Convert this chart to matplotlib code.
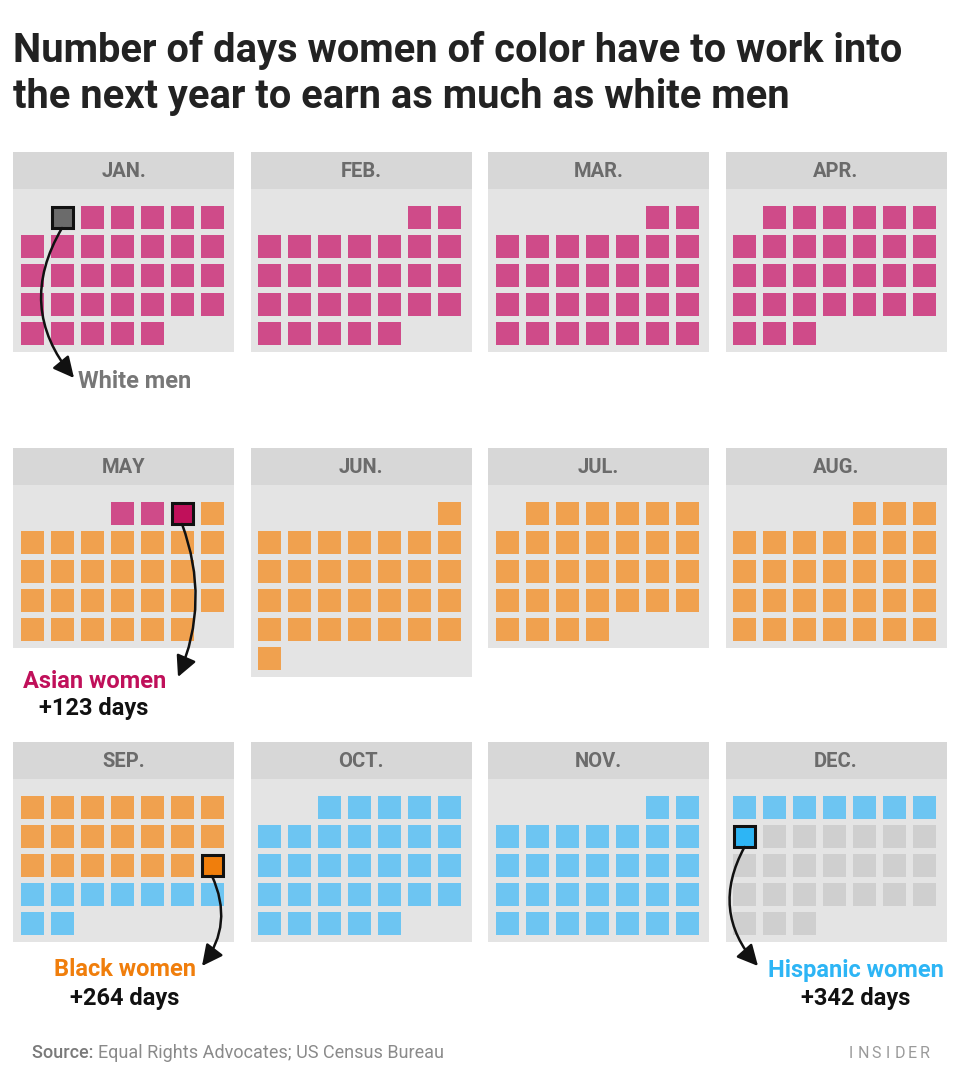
import numpy as np
import matplotlib
matplotlib.use("Agg")
import matplotlib.pyplot as plt
from matplotlib.patches import Rectangle

plt.rcParams['font.family'] = ['Roboto', 'DejaVu Sans']

# calendar data
months = ["JAN.", "FEB.", "MAR.", "APR.", "MAY", "JUN.",
          "JUL.", "AUG.", "SEP.", "OCT.", "NOV.", "DEC."]
start_cols = [1, 5, 5, 1, 3, 6, 1, 4, 0, 2, 5, 0]
day_counts = [32, 28, 30, 30, 31, 30, 31, 31, 30, 31, 30, 31]

# the day each group reaches the white men's pay (month index, day of month)
groups = ["White men", "Asian women", "Black women", "Hispanic women"]
extra_days = [None, "+123 days", "+264 days", "+342 days"]
hl_month = [0, 4, 8, 11]
hl_day = [1, 3, 21, 8]

hl_colors = ["#6b6b6b", "#c0105a", "#f07e0c", "#2db5f5"]
seg_colors = ["#cf4b89", "#f0a14f", "#6dc5f2", "#cfcfcf"]
label_colors = ["#777777", "#c0105a", "#f07e0c", "#2db5f5"]

# layout (pixels)
W, H = 960, 1091
panel_x0, panel_dx, panel_w = 13, 237.5, 221
row_tops = [152, 448, 742]
head_h, gap, pitch_x, pitch_y, sq = 37, 17, 30, 29, 23

fig = plt.figure(figsize=(W / 100, H / 100), dpi=100)
ax = fig.add_axes([0, 0, 1, 1])
ax.set_xlim(0, W)
ax.set_ylim(H, 0)
ax.axis("off")

cum = np.concatenate([[0], np.cumsum(day_counts)])
hl_ord = [cum[m] + d - 1 for m, d in zip(hl_month, hl_day)]

def day_color(o):
    if o in hl_ord:
        return hl_colors[hl_ord.index(o)], True
    k = sum(h < o for h in hl_ord)
    return seg_colors[k - 1], False

sq_centers = {}
for m, name in enumerate(months):
    col, row = m % 4, m // 4
    x0 = panel_x0 + col * panel_dx
    top = row_tops[row]
    nrows = int(np.ceil((start_cols[m] + day_counts[m]) / 7))
    body_h = gap + nrows * pitch_y - (pitch_y - sq) + 7
    ax.add_patch(Rectangle((x0, top), panel_w, head_h + body_h,
                           facecolor="#e4e4e4", edgecolor="none", zorder=1))
    ax.add_patch(Rectangle((x0, top), panel_w, head_h,
                           facecolor="#d7d7d7", edgecolor="none", zorder=1))
    ax.text(x0 + panel_w / 2, top + head_h / 2 + 1, name, ha="center", va="center",
            fontsize=14.5, fontweight="bold", color="#6b6b6b", zorder=3)
    for d in range(day_counts[m]):
        slot = start_cols[m] + d
        r, c = slot // 7, slot % 7
        sx = x0 + 7.5 + c * pitch_x
        sy = top + head_h + gap + r * pitch_y
        color, hl = day_color(cum[m] + d)
        if hl:
            ax.add_patch(Rectangle((sx + 1, sy + 1), sq - 2, sq - 2, facecolor=color,
                                   edgecolor="#111111", linewidth=2.2, zorder=4))
            sq_centers[(m, d + 1)] = (sx + sq / 2, sy + sq)
        else:
            ax.add_patch(Rectangle((sx, sy), sq, sq, facecolor=color,
                                   edgecolor="none", zorder=2))

# labels and arrows
label_pos = [(78, 382, "left"), (95, 681, "center"), (125, 970, "center"), (856, 970, "center")]
arrow_end = [(74, 378), (178, 677), (202, 966), (758, 966)]
arrow_rad = [0.35, -0.2, -0.3, 0.35]
for i, g in enumerate(groups):
    lx, ly, ha = label_pos[i]
    ax.text(lx, ly, g, ha=ha, va="center", fontsize=17, fontweight="bold",
            color=label_colors[i], zorder=5)
    if extra_days[i]:
        ax.text(lx - (1 if i == 1 else 0), ly + 28, extra_days[i], ha="center", va="center",
                fontsize=17, fontweight="bold", color="#111111", zorder=5)
    start = sq_centers[(hl_month[i], hl_day[i])]
    ax.annotate("", xy=arrow_end[i], xytext=(start[0], start[1] - 1),
                arrowprops=dict(arrowstyle="-|>,head_length=0.7,head_width=0.35",
                                connectionstyle=f"arc3,rad={arrow_rad[i]}",
                                color="#111111", lw=1.8, mutation_scale=18,
                                shrinkA=0, shrinkB=0),
                zorder=6)

# title
ax.text(13, 50, "Number of days women of color have to work into", ha="left", va="center",
        fontsize=28.7, fontweight="bold", color="#222222")
ax.text(13, 97, "the next year to earn as much as white men", ha="left", va="center",
        fontsize=28.7, fontweight="bold", color="#222222")

# footer
src = ax.text(32, 1053, "Source: ", ha="left", va="center", fontsize=13,
              color="#7a7a7a", fontweight="medium")
ax.annotate("Equal Rights Advocates; US Census Bureau", xycoords=src, xy=(1, 0.5),
            va="center", ha="left", fontsize=13, color="#8a8a8a")
for j, ch in enumerate("INSIDER"):
    ax.text(851 + j * 12.3, 1053, ch, ha="center", va="center", fontsize=11.5,
            color="#9a9a9a")

fig.savefig("out.png", dpi=100)
